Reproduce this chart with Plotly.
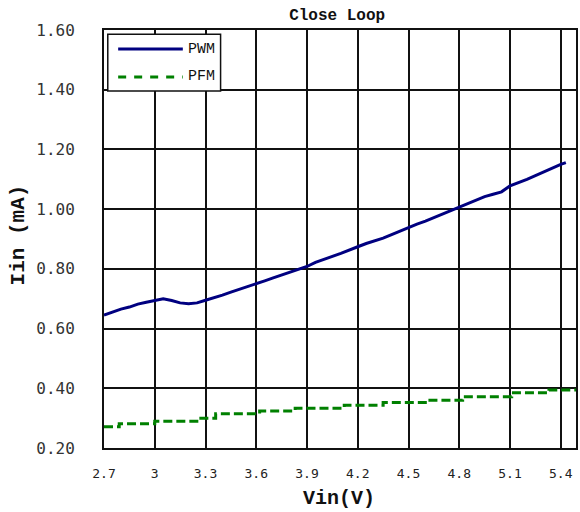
import plotly.graph_objects as go

# PWM curve: input voltage (V) vs input current (mA)
pwm_vin = [2.70, 2.75, 2.80, 2.85, 2.90, 2.95, 3.00, 3.05, 3.10, 3.15, 3.20, 3.25,
           3.30, 3.35, 3.40, 3.45, 3.50, 3.55, 3.60, 3.65, 3.70, 3.75, 3.80, 3.85,
           3.90, 3.95, 4.00, 4.05, 4.10, 4.15, 4.20, 4.25, 4.30, 4.35, 4.40, 4.45,
           4.50, 4.55, 4.60, 4.65, 4.70, 4.75, 4.80, 4.85, 4.90, 4.95, 5.00, 5.05,
           5.10, 5.15, 5.20, 5.25, 5.30, 5.35, 5.40, 5.43]
pwm_iin = [0.645, 0.655, 0.665, 0.672, 0.682, 0.688, 0.693, 0.700, 0.694, 0.686, 0.683, 0.686,
           0.695, 0.703, 0.712, 0.722, 0.731, 0.741, 0.750, 0.760, 0.770, 0.779, 0.788, 0.798,
           0.808, 0.822, 0.833, 0.842, 0.852, 0.864, 0.874, 0.885, 0.894, 0.903, 0.915, 0.927,
           0.939, 0.950, 0.960, 0.972, 0.984, 0.995, 1.006, 1.018, 1.030, 1.042, 1.050, 1.058,
           1.078, 1.088, 1.100, 1.112, 1.125, 1.138, 1.150, 1.156]

# PFM curve (stepped)
pfm_vin = [2.70, 2.79, 3.00, 3.26, 3.36, 3.62, 3.83, 4.12, 4.35, 4.61, 4.82, 5.11, 5.33, 5.49]
pfm_iin = [0.271, 0.281, 0.290, 0.300, 0.315, 0.324, 0.333, 0.343, 0.352, 0.360, 0.372, 0.385, 0.394, 0.394]

x_tickvals = [2.7, 3.0, 3.3, 3.6, 3.9, 4.2, 4.5, 4.8, 5.1, 5.4]
x_ticktext = ["2.7", "3", "3.3", "3.6", "3.9", "4.2", "4.5", "4.8", "5.1", "5.4"]
y_tickvals = [0.2, 0.4, 0.6, 0.8, 1.0, 1.2, 1.4, 1.6]
y_ticktext = ["0.20", "0.40", "0.60", "0.80", "1.00", "1.20", "1.40", "1.60"]

series_names = ["PWM", "PFM"]
series_colors = ["#000080", "#008000"]

fig = go.Figure()
fig.add_trace(go.Scatter(x=pwm_vin, y=pwm_iin, mode="lines", name=series_names[0],
                         line=dict(color=series_colors[0], width=3), showlegend=False))
fig.add_trace(go.Scatter(x=pfm_vin, y=pfm_iin, mode="lines", name=series_names[1],
                         line=dict(color=series_colors[1], width=3, dash="9px,4px", shape="hv"),
                         showlegend=False))

W, H = 580, 512
L, R, T, B = 104, 2, 30, 64

axis_common = dict(showline=True, mirror=True, linecolor="#111", linewidth=2,
                   showgrid=True, gridcolor="#111", gridwidth=1.5, zeroline=False, ticks="")

fig.update_xaxes(range=[2.7, 5.49], tickvals=x_tickvals, ticktext=x_ticktext,
                 tickfont=dict(family="DejaVu Sans Mono", size=13, color="#222"),
                 ticklabelstandoff=12, **axis_common)
fig.update_yaxes(range=[0.2, 1.6], tickvals=y_tickvals, ticktext=y_ticktext,
                 tickfont=dict(family="DejaVu Sans Mono", size=16, color="#333"),
                 ticklabelstandoff=24, **axis_common)

# manual legend (box, sample lines, labels)
lx0, lx1, ly0, ly1 = 0.008, 0.247, 0.854, 0.990
shapes = [
    dict(type="rect", xref="paper", yref="paper", x0=lx0, x1=lx1, y0=ly0, y1=ly1,
         line=dict(color="#111", width=1.5), fillcolor="white", layer="above"),
    dict(type="line", xref="paper", yref="paper", x0=0.030, x1=0.167, y0=0.9545, y1=0.9545,
         line=dict(color=series_colors[0], width=3), layer="above"),
    dict(type="line", xref="paper", yref="paper", x0=0.030, x1=0.167, y0=0.8876, y1=0.8876,
         line=dict(color=series_colors[1], width=3, dash="8px,8px"), layer="above"),
]
annotations = [
    dict(text=series_names[0], xref="paper", yref="paper", x=0.174, y=0.9545,
         xanchor="left", yanchor="middle", showarrow=False,
         font=dict(family="Liberation Mono", size=15, color="#111")),
    dict(text=series_names[1], xref="paper", yref="paper", x=0.174, y=0.8876,
         xanchor="left", yanchor="middle", showarrow=False,
         font=dict(family="Liberation Mono", size=15, color="#111")),
    dict(text="<b>Iin (mA)</b>", xref="paper", yref="paper", x=-0.181, y=0.51,
         xanchor="center", yanchor="middle", textangle=-90, showarrow=False,
         font=dict(family="Liberation Mono", size=21, color="#111")),
    dict(text="<b>Vin(V)</b>", xref="paper", yref="paper", x=0.498, y=-0.12,
         xanchor="center", yanchor="middle", showarrow=False,
         font=dict(family="Liberation Mono", size=20, color="#111")),
]

fig.update_layout(
    width=W, height=H,
    margin=dict(l=L, r=R, t=T, b=B),
    paper_bgcolor="white", plot_bgcolor="white",
    title=dict(text="<b>Close Loop</b>", x=0.494, xref="paper", xanchor="center",
               y=1 - 14 / H, yanchor="middle",
               font=dict(family="Liberation Mono", size=16, color="#111")),
    shapes=shapes, annotations=annotations,
    showlegend=False,
)

fig.write_html("out.html", config={"displayModeBar": False},
               post_script="document.body.style.margin='0';document.body.style.overflow='hidden';")
